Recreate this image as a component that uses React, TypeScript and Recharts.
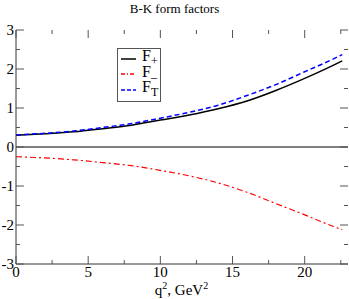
import {
  LineChart,
  Line,
  XAxis,
  YAxis,
  ReferenceLine,
} from 'recharts';

const q2 = [0, 2, 4, 6, 8, 10, 12, 14, 16, 18, 20, 22, 22.6];
const fPlus = [0.3, 0.34, 0.39, 0.47, 0.56, 0.69, 0.82, 0.98, 1.18, 1.45, 1.76, 2.1, 2.21];
const fMinus = [-0.25, -0.28, -0.33, -0.4, -0.48, -0.6, -0.74, -0.92, -1.16, -1.45, -1.74, -2.04, -2.12];
const fT = [0.31, 0.35, 0.41, 0.5, 0.6, 0.74, 0.89, 1.07, 1.32, 1.6, 1.93, 2.26, 2.37];

const xTicks = [0, 2.5, 5, 7.5, 10, 12.5, 15, 17.5, 20, 22.5];
const yTicks = [-3, -2.5, -2, -1.5, -1, -0.5, 0, 0.5, 1, 1.5, 2, 2.5, 3];

const W = 349;
const H = 299;
const TOP = 30;
const LEFT = 16;
const RIGHT = 348;
const BOTTOM = 264;
const PLOT_H = BOTTOM - TOP;
const PLOT_W = RIGHT - LEFT;

const serif = '"Liberation Serif", "DejaVu Serif", serif';
const tickColor = '#555';

const data = q2.map((q, i) => ({ q, fPlus: fPlus[i], fMinus: fMinus[i], fT: fT[i] }));

function XTick({ x, y, payload }: any) {
  const major = payload.value % 5 === 0;
  const len = major ? 8 : 4;
  return (
    <g>
      <line x1={x} x2={x} y1={y} y2={y - len} stroke={tickColor} />
      <line x1={x} x2={x} y1={y - PLOT_H} y2={y - PLOT_H + len} stroke={tickColor} />
      {major && (
        <text x={x} y={y + 13} textAnchor="middle" fontSize={15} fontFamily={serif} fill="#000">
          {payload.value}
        </text>
      )}
    </g>
  );
}

function YTick({ x, y, payload }: any) {
  const major = Number.isInteger(payload.value);
  const len = major ? 8 : 4;
  return (
    <g>
      <line x1={x} x2={x + len} y1={y} y2={y} stroke={tickColor} />
      <line x1={x + PLOT_W} x2={x + PLOT_W - len} y1={y} y2={y} stroke={tickColor} />
      {major && (
        <text x={x - 2} y={y + 5} textAnchor="end" fontSize={15} fontFamily={serif} fill="#000">
          {payload.value}
        </text>
      )}
    </g>
  );
}

function LegendBox() {
  const rows = [
    { sub: '+', color: '#000', dash: undefined },
    { sub: '\u2013', color: '#ff0000', dash: '4 2 1 2' },
    { sub: 'T', color: '#0000ff', dash: '4 2' },
  ];
  return (
    <div
      style={{
        position: 'absolute',
        left: 117,
        top: 48,
        width: 44,
        height: 54,
        border: '1px solid #555',
        boxSizing: 'border-box',
        background: '#fff',
        fontFamily: serif,
        padding: '2px 0 0 2px',
      }}
    >
      {rows.map((r) => (
        <div key={r.sub} style={{ display: 'flex', alignItems: 'center', height: 15.5 }}>
          <svg width={18} height={6}>
            <line x1={1} x2={16} y1={3} y2={3} stroke={r.color} strokeWidth={1.5} strokeDasharray={r.dash} />
          </svg>
          <span style={{ fontSize: 16, marginLeft: 4, lineHeight: '15px' }}>
            F<sub style={{ fontSize: 12 }}>{r.sub}</sub>
          </span>
        </div>
      ))}
    </div>
  );
}

export default function App() {
  return (
    <div style={{ position: 'absolute', left: 0, top: 0, width: W, height: H, background: '#fff', fontFamily: serif }}>
      <div style={{ position: 'absolute', left: 0, width: W, top: 1, textAlign: 'center', fontSize: 13 }}>
        B-K form factors
      </div>
      <LineChart
        width={W}
        height={H}
        data={data}
        margin={{ top: TOP, right: W - RIGHT, left: 0, bottom: H - BOTTOM - 20 }}
      >
        <XAxis
          dataKey="q"
          type="number"
          domain={[0, 23]}
          ticks={xTicks}
          interval={0}
          height={20}
          tickSize={0}
          tickMargin={0}
          tickLine={false}
          stroke="#333"
          tick={<XTick />}
        />
        <XAxis xAxisId="top" orientation="top" dataKey="q" type="number" domain={[0, 23]} height={0} tick={false} tickLine={false} stroke="#333" />
        <YAxis
          type="number"
          domain={[-3, 3]}
          ticks={yTicks}
          interval={0}
          width={LEFT}
          tickSize={0}
          tickMargin={0}
          tickLine={false}
          stroke="#333"
          tick={<YTick />}
        />
        <YAxis yAxisId="right" orientation="right" domain={[-3, 3]} width={0} tick={false} tickLine={false} stroke="#333" />
        <ReferenceLine y={0} stroke="#000" />
        <Line dataKey="fPlus" stroke="#000" strokeWidth={1.5} dot={false} type="monotone" isAnimationActive={false} />
        <Line dataKey="fMinus" stroke="#ff0000" strokeWidth={1.2} strokeDasharray="6 3 2 3" dot={false} type="monotone" isAnimationActive={false} />
        <Line dataKey="fT" stroke="#0000ff" strokeWidth={1.5} strokeDasharray="5 3" dot={false} type="monotone" isAnimationActive={false} />
      </LineChart>
      <LegendBox />
      <div style={{ position: 'absolute', left: 0, width: W, top: 280, textAlign: 'center', fontSize: 15, paddingLeft: 14, boxSizing: 'border-box' }}>
        q<sup style={{ fontSize: 10 }}>2</sup>, GeV<sup style={{ fontSize: 10 }}>2</sup>
      </div>
    </div>
  );
}
